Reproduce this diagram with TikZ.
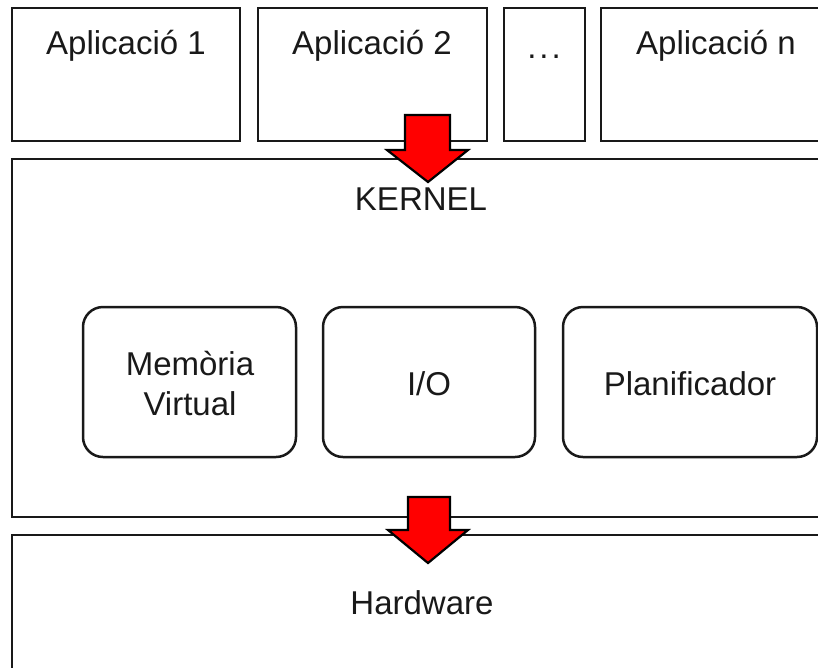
\documentclass[tikz,border=0pt]{standalone}
\usepackage{fontspec}
\setmainfont{Liberation Sans}
\begin{document}
\begin{tikzpicture}[x=1pt,y=-1pt,
  layerbox/.style={draw=black!90,line width=2.8pt},
  modbox/.style={draw=black!90,line width=2.5pt,rounded corners=20pt},
  lbl/.style={font=\fontsize{33}{40}\selectfont,text=black!90,align=center,inner sep=0pt},
  blockarrow/.style={fill=red,draw=black,line width=2.2pt,line join=miter}]
\useasboundingbox (0,0) rectangle (818,667);
\clip (0,0) rectangle (818,667);
% application layer
\draw[layerbox] (12,8) rectangle (240,141);
\draw[layerbox] (258,8) rectangle (487,141);
\draw[layerbox] (504,8) rectangle (585,141);
\draw[layerbox] (601,8) rectangle (832,141);
\node[lbl] (a1) at (126,46) {Aplicació 1};
\node[lbl] (a2) at (372,46) {Aplicació 2};
\node[lbl,anchor=base] (adots) at (544,58) {.\kern3pt.\kern3pt.};
\node[lbl] (an) at (716,46) {Aplicació n};
% kernel
\draw[layerbox] (12,159) rectangle (832,517);
\node[lbl] (kernel) at (421,199) {KERNEL};
\draw[modbox] (83,307) rectangle (296,457);
\draw[modbox] (323,307) rectangle (535,457);
\draw[modbox] (563,307) rectangle (817,457);
\node[lbl] (mem) at (190,384) {Memòria\\Virtual};
\node[lbl] (io) at (429,384) {I/O};
\node[lbl] (plan) at (690,384) {Planificador};
% hardware
\draw[layerbox] (12,535) rectangle (832,690);
\node[lbl] (hw) at (422,603) {Hardware};
% block arrows
\coordinate (t1) at (428,182);
\coordinate (t2) at (428,563);
\draw[blockarrow] (t1) -- ++(-41,-32) -- ++(18,0) -- ++(0,-35) -- ++(45,0) -- ++(0,35) -- ++(18,0) -- cycle;
\draw[blockarrow] (t2) -- ++(-40,-33) -- ++(20,0) -- ++(0,-33) -- ++(42,0) -- ++(0,33) -- ++(18,0) -- cycle;
\end{tikzpicture}
\end{document}
